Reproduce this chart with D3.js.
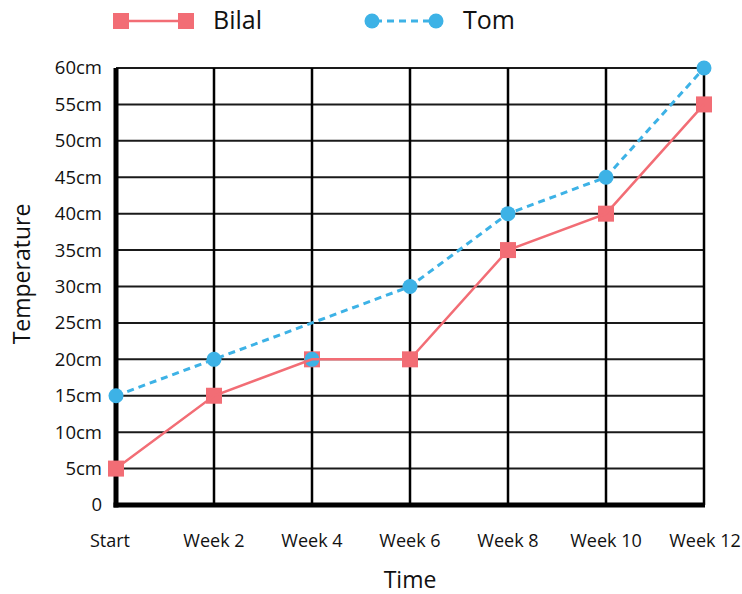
<!DOCTYPE html>
<html>
<head>
<meta charset="utf-8">
<script src="https://cdn.jsdelivr.net/npm/d3@7"></script>
<style>
  body { margin: 0; background: #fff; }
  text { font-family: "Open Sans", "Noto Sans", sans-serif; fill: #111; }
</style>
</head>
<body>
<script>
var weeks = ['Start', 'Week 2', 'Week 4', 'Week 6', 'Week 8', 'Week 10', 'Week 12'];
var bilal = [5, 15, 20, 20, 35, 40, 55];
var tom = [15, 20, 25, 30, 40, 45, 60];
// the source draws Tom's Week 4 dot at 20, off his line
var tomDots = [15, 20, 20, 30, 40, 45, 60];
var yTicks = [0, 5, 10, 15, 20, 25, 30, 35, 40, 45, 50, 55, 60];

var W = 742, H = 594;
var plotL = 116, plotR = 704, plotT = 68, plotB = 505;

var svg = d3.select('body').append('svg').attr('width', W).attr('height', H);

var x = d3.scalePoint().domain(weeks).range([plotL, plotR]);
var y = d3.scaleLinear().domain([0, 60]).range([plotB, plotT]);

// grid
svg.append('g').selectAll('line').data(yTicks.slice(1)).enter().append('line')
    .attr('x1', plotL).attr('x2', plotR)
    .attr('y1', function(d) { return y(d); }).attr('y2', function(d) { return y(d); })
    .style('stroke', '#1a1a1a').style('stroke-width', 2);

svg.append('g').selectAll('line').data(weeks.slice(1)).enter().append('line')
    .attr('x1', function(d) { return x(d); }).attr('x2', function(d) { return x(d); })
    .attr('y1', plotT).attr('y2', plotB)
    .style('stroke', '#000').style('stroke-width', 2.5);

// thick axes
svg.append('line').attr('x1', plotL).attr('x2', plotL).attr('y1', plotT).attr('y2', plotB + 2.5)
    .style('stroke', '#000').style('stroke-width', 5);
svg.append('line').attr('x1', plotL - 2.5).attr('x2', plotR + 1).attr('y1', plotB).attr('y2', plotB)
    .style('stroke', '#000').style('stroke-width', 5);

// y tick labels
svg.append('g').selectAll('text').data(yTicks).enter().append('text')
    .attr('x', 102).attr('y', function(d) { return y(d); }).attr('dy', '0.35em')
    .attr('text-anchor', 'end').style('font-size', '18.5px')
    .text(function(d) { return d === 0 ? '0' : d + 'cm'; });

// x tick labels
svg.append('g').selectAll('text').data(weeks).enter().append('text')
    .attr('x', function(d, i) { return i === 0 ? x(d) - 6 : i === 6 ? x(d) + 1 : x(d); }).attr('y', 547)
    .attr('text-anchor', 'middle').style('font-size', '18px')
    .text(function(d) { return d; });

// axis titles
svg.append('text').attr('x', 410).attr('y', 588).attr('text-anchor', 'middle')
    .style('font-size', '23px').text('Time');
svg.append('text').attr('transform', 'translate(30,274) rotate(-90)').attr('text-anchor', 'middle')
    .style('font-size', '23px').text('Temperature');

var red = '#f26d75', blue = '#3db2e6';
var line = d3.line().x(function(d, i) { return x(weeks[i]); }).y(function(d) { return y(d); });

svg.append('path').datum(tom).attr('d', line)
    .style('fill', 'none').style('stroke', blue).style('stroke-width', 3).style('stroke-dasharray', '7,5');

svg.append('g').selectAll('rect').data(bilal).enter().append('rect')
    .attr('x', function(d, i) { return x(weeks[i]) - 8; }).attr('y', function(d) { return y(d) - 8; })
    .attr('width', 16).attr('height', 16).style('fill', red);
svg.append('g').selectAll('circle').data(tomDots).enter().append('circle')
    .attr('cx', function(d, i) { return x(weeks[i]); }).attr('cy', function(d) { return y(d); })
    .attr('r', 7.5).style('fill', blue);

svg.append('path').datum(bilal).attr('d', line)
    .style('fill', 'none').style('stroke', red).style('stroke-width', 2.5);

// legend
var lg = svg.append('g');
lg.append('line').attr('x1', 121).attr('x2', 186).attr('y1', 21).attr('y2', 21)
    .style('stroke', red).style('stroke-width', 2.5);
lg.selectAll('rect').data([121, 186]).enter().append('rect')
    .attr('x', function(d) { return d - 8; }).attr('y', 13).attr('width', 16).attr('height', 16)
    .style('fill', red);
lg.append('text').attr('x', 213).attr('y', 29).style('font-size', '25px').text('Bilal');

lg.append('line').attr('x1', 372).attr('x2', 436).attr('y1', 21).attr('y2', 21)
    .style('stroke', blue).style('stroke-width', 3).style('stroke-dasharray', '7,5')
    .style('stroke-dashoffset', -3);
lg.selectAll('circle').data([372, 436]).enter().append('circle')
    .attr('cx', function(d) { return d; }).attr('cy', 21).attr('r', 7.5).style('fill', blue);
lg.append('text').attr('x', 463).attr('y', 29).style('font-size', '25px').text('Tom');
</script>
</body>
</html>
